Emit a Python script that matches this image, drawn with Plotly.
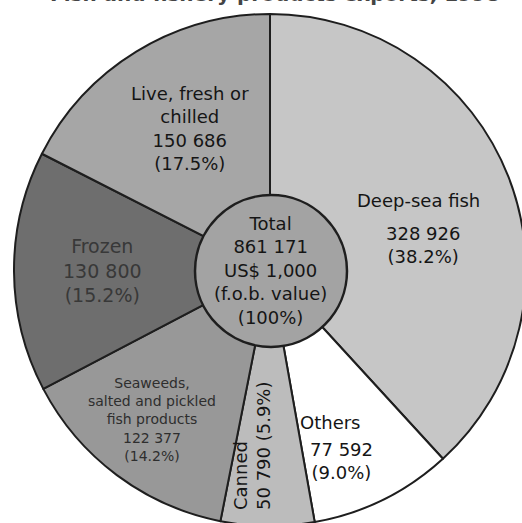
import plotly.graph_objects as go

# ---- data ----
categories = ["Deep-sea fish", "Others", "Canned",
              "Seaweeds, salted and pickled fish products", "Frozen",
              "Live, fresh or chilled"]
values = [328926, 77592, 50790, 122377, 130800, 150686]
value_labels = ["328 926", "77 592", "50 790", "122 377", "130 800", "150 686"]
pct_labels = ["38.2%", "9.0%", "5.9%", "14.2%", "15.2%", "17.5%"]
name_lines = ["Deep-sea fish", "Others", "Canned",
              "Seaweeds,<br>salted and pickled<br>fish products", "Frozen",
              "Live, fresh or<br>chilled"]
total_value = 861171
total_label = "861 171"
title_text = "Fish and fishery products exports, 1998"

# ---- style ----
W, H = 540, 540
slice_colors = ["#c6c6c6", "#ffffff", "#bcbcbc", "#989898", "#6e6e6e", "#a6a6a6"]
FONT = "DejaVu Sans, Verdana, sans-serif"


def px(x):
    return x / W


def py(y):
    return 1 - y / H


fig = go.Figure()
fig.add_trace(go.Pie(
    labels=categories, values=values, sort=False, direction="clockwise",
    rotation=0, textinfo="none", hoverinfo="label+value",
    marker=dict(colors=slice_colors, line=dict(color="#1e1e1e", width=2)),
    domain=dict(x=[px(14), px(526)], y=[py(526), py(14)]),
    showlegend=False,
))
fig.add_trace(go.Pie(
    labels=["Total"], values=[total_value], textinfo="none", hoverinfo="skip",
    marker=dict(colors=["#a3a3a3"], line=dict(color="#1e1e1e", width=2.5)),
    domain=dict(x=[px(195), px(347)], y=[py(347), py(195)]),
    showlegend=False,
))

anns = []
txt = "#151515"
# Deep-sea fish
anns.append(dict(x=px(418), y=py(200), text=name_lines[0], font=dict(size=18, color=txt)))
anns.append(dict(x=px(423), y=py(245), text=f"{value_labels[0]}<br>({pct_labels[0]})",
                 font=dict(size=18, color=txt)))
# Others
anns.append(dict(x=px(330), y=py(422), text=name_lines[1], font=dict(size=18, color=txt)))
anns.append(dict(x=px(341), y=py(461), text=f"{value_labels[1]}<br>({pct_labels[1]})",
                 font=dict(size=18, color=txt)))
# Canned (rotated)
anns.append(dict(x=px(252), y=py(446), text=f"{name_lines[2]}<br>{value_labels[2]} ({pct_labels[2]})",
                 textangle=-90, align="left", font=dict(size=18, color=txt)))
# Seaweeds
anns.append(dict(x=px(152), y=py(419), text=f"{name_lines[3]}<br>{value_labels[3]}<br>({pct_labels[3]})",
                 font=dict(size=14, color="#2e2e2e")))
# Frozen
anns.append(dict(x=px(102), y=py(270), text=f"{name_lines[4]}<br>{value_labels[4]}<br>({pct_labels[4]})",
                 font=dict(size=19, color="#383838")))
# Live
anns.append(dict(x=px(190), y=py(128), text=f"{name_lines[5]}<br>{value_labels[5]}<br>({pct_labels[5]})",
                 font=dict(size=18, color=txt)))
# Centre
anns.append(dict(x=px(270), y=py(270),
                 text=f"Total<br>{total_label}<br>US$ 1,000<br>(f.o.b. value)<br>(100%)",
                 font=dict(size=18, color=txt)))
# Title (cut off at the top edge, as in the source scan)
anns.append(dict(x=px(275), y=py(-6), text=f"<b>{title_text}</b>",
                 font=dict(size=20, color="#444444")))

for a in anns:
    a.update(xref="paper", yref="paper", showarrow=False,
             xanchor="center", yanchor="middle")
    a["font"]["family"] = FONT

fig.update_layout(
    width=W, height=H, autosize=False,
    margin=dict(l=0, r=0, t=0, b=0),
    paper_bgcolor="white", plot_bgcolor="white",
    annotations=anns,
    font=dict(family=FONT),
)

fig.write_html("out.html", config={"displayModeBar": False},
               post_script="document.documentElement.style.overflow='hidden';document.body.style.overflow='hidden';document.body.style.margin='0';")
